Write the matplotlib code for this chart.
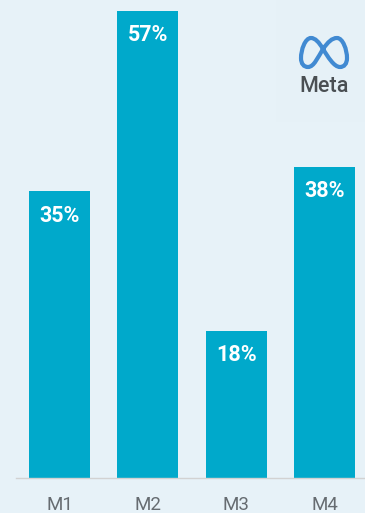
import matplotlib
matplotlib.use('Agg')
import matplotlib.pyplot as plt
from matplotlib.path import Path
from matplotlib.patches import PathPatch, Rectangle

months = ['M1', 'M2', 'M3', 'M4']
share = [35, 57, 18, 38]

BG = '#E7F2F8'
BAR = '#00A9CB'
W, H = 365, 513

plt.rcParams['font.family'] = ['Roboto', 'DejaVu Sans']

fig = plt.figure(figsize=(W / 100, H / 100), dpi=100, facecolor=BG)

# bars, baseline sits 35px above the bottom edge
ax = fig.add_axes([16 / W, 35 / H, 349 / W, 467 / H], facecolor='none')
x = range(len(months))
bars = ax.bar(x, share, width=0.69, color=BAR)
ax.set_xlim(-0.493, 3.458)
ax.set_ylim(0, 57)

for rect, v in zip(bars, share):
    ax.annotate('%d%%' % v, (rect.get_x() + rect.get_width() / 2, v),
                xytext=(0, -17.5), textcoords='offset points',
                ha='center', va='center', color='white',
                fontsize=15.5, fontweight='bold')

ax.set_xticks(list(x))
ax.set_xticklabels(months, fontsize=13.5, color='#666C71')
ax.tick_params(axis='x', length=0, pad=13)
ax.set_yticks([])
for side in ['top', 'left', 'right']:
    ax.spines[side].set_visible(False)
ax.spines['bottom'].set_color('#D2D2D2')
ax.spines['bottom'].set_linewidth(1)

# logo block, drawn in pixel coordinates
logo = fig.add_axes([0, 0, 1, 1], facecolor='none')
logo.set_xlim(0, W)
logo.set_ylim(H, 0)
logo.axis('off')
logo.add_patch(Rectangle((276, 0), 89, 122, color='#E6F1F7', lw=0))

verts = [(323, 49),
         (319, 42), (315, 38), (311, 38),
         (305, 38), (301, 50), (301, 58),
         (301, 64), (304, 67), (308, 67),
         (314, 67), (318, 57), (323, 49),
         (328, 42), (332, 38), (337, 38),
         (343, 38), (347, 50), (347, 58),
         (347, 64), (344, 67), (340, 67),
         (334, 67), (328, 57), (323, 49)]
codes = [Path.MOVETO] + [Path.CURVE4] * 24
logo.add_patch(PathPatch(Path(verts, codes), fill=False, edgecolor='#2F7FCE',
                         lw=3.0, alpha=0.9))
logo.text(324, 86, 'Meta', ha='center', va='center', fontsize=15.5,
          fontweight='medium', color='#4A4F53')

fig.savefig('out.png', dpi=100, facecolor=BG)
